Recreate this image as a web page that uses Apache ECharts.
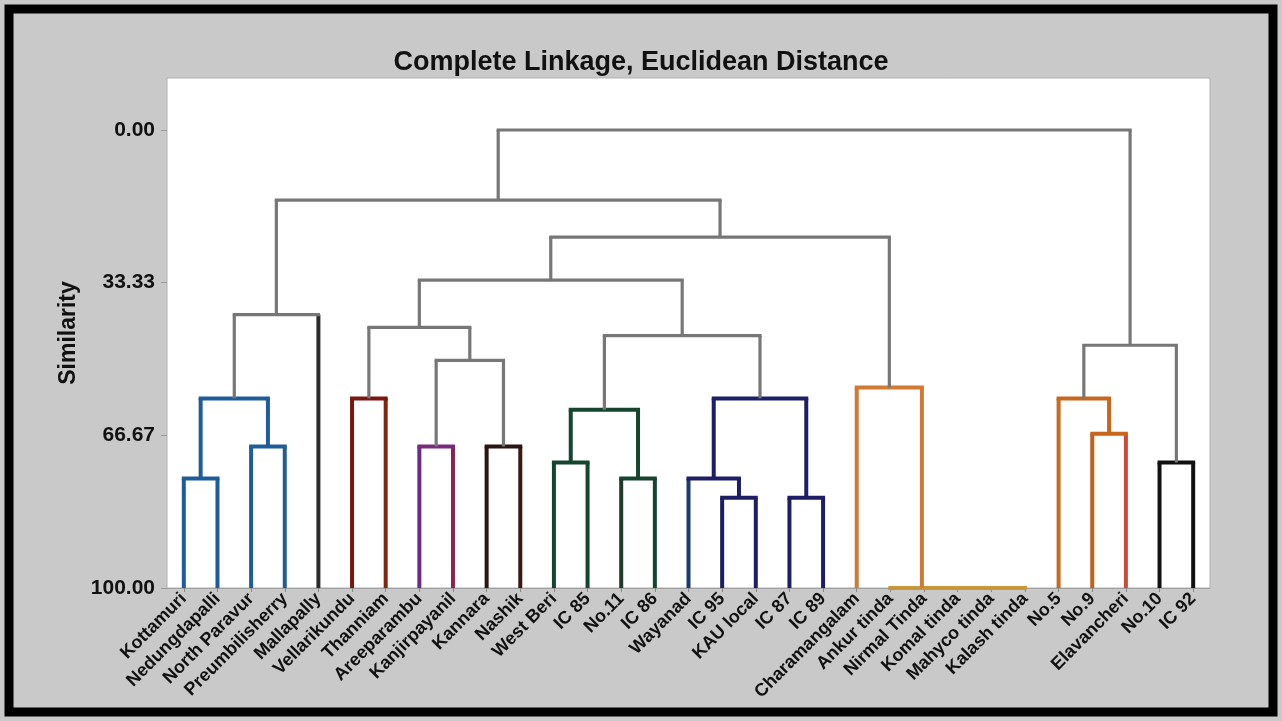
<!DOCTYPE html>
<html>
<head>
<meta charset="utf-8">
<script src="https://cdn.jsdelivr.net/npm/echarts@6/dist/echarts.min.js"></script>
<style>
  html, body { margin: 0; padding: 0; background: #c9c9c9; }
  #chart { width: 1282px; height: 721px; }
</style>
</head>
<body>
<div id="chart"></div>
<script>
// leaves, left to right
const leaves = ['Kottamuri', 'Nedungdapalli', 'North Paravur', 'Preumbilisherry', 'Mallapally',
  'Vellarikundu', 'Thanniam', 'Areeparambu', 'Kanjirpayanil', 'Kannara', 'Nashik', 'West Beri',
  'IC 85', 'No.11', 'IC 86', 'Wayanad', 'IC 95', 'KAU local', 'IC 87', 'IC 89', 'Charamangalam',
  'Ankur tinda', 'Nirmal Tinda', 'Komal tinda', 'Mahyco tinda', 'Kalash tinda', 'No.5', 'No.9',
  'Elavancheri', 'No.10', 'IC 92'];
const leafColors = ['#1f5c9a', '#1f5c9a', '#1f5c9a', '#1f5c9a', '#2b2b2b',
  '#7a1610', '#80260f', '#6b2a86', '#8a2450', '#2a1414', '#3a1a10', '#15452e',
  '#15452e', '#1d3a2a', '#15452e', '#1c3a72', '#1e1e66', '#1e1e66', '#1e1e66', '#1e1e66', '#d07a34',
  '#c8963c', '#c8963c', '#c8963c', '#c8963c', '#c8963c', '#c86a22', '#c0601e',
  '#c84a3a', '#111111', '#111111'];

// merges: node ids 0..30 are leaves, merge k gets id 31 + k
const mergeLeft  = [0, 2, 31, 33, 5, 7, 9, 36, 35, 11, 13, 40, 16, 15, 18, 44, 42, 39, 24, 23, 22, 21, 20, 48, 34, 27, 26, 29, 57, 55];
const mergeRight = [1, 3, 32, 4, 6, 8, 10, 37, 38, 12, 14, 41, 17, 43, 19, 45, 46, 47, 25, 49, 50, 51, 52, 53, 54, 28, 56, 30, 58, 59];
const mergeSim   = [76.1, 69.1, 58.6, 40.3, 58.6, 69.1, 69.1, 50.3, 43.1, 72.6, 76.1, 61.1, 80.3, 76.1, 80.3, 58.6,
  44.9, 32.8, 100, 100, 100, 100, 56.2, 23.4, 15.3, 66.3, 58.6, 72.6, 47.0, 0];
const mergeColors = ['#1f5c9a', '#1f5c9a', '#1f5c9a', '#777777', '#7a1610', '#7a2a7a', '#2a1414', '#777777',
  '#777777', '#15452e', '#15452e', '#15452e', '#1e1e66', '#1e1e66', '#1e1e66', '#1e1e66', '#777777', '#777777',
  '#c8963c', '#c8963c', '#c8963c', '#c8963c', '#d07a34', '#777777', '#777777', '#c8661e', '#c8661e', '#111111',
  '#777777', '#777777'];

const simTicks = [0, 33.33, 66.67, 100];

// node positions (leaf index units) and heights
let nodeX = leaves.map((_, i) => i);
let nodeH = leaves.map(() => 100);
mergeLeft.forEach((a, k) => {
  let b = mergeRight[k];
  nodeX.push((nodeX[a] + nodeX[b]) / 2);
  nodeH.push(mergeSim[k]);
});

let segData = mergeLeft.map((a, k) => {
  let b = mergeRight[k];
  return [nodeX[a], nodeH[a], nodeX[b], nodeH[b], mergeSim[k]];
});

function seg(p0, p1, color, cap) {
  return {
    type: 'line',
    shape: { x1: p0[0], y1: p0[1], x2: p1[0], y2: p1[1] },
    style: { stroke: color, lineWidth: color === '#777777' ? 3.2 : 4, lineCap: cap }
  };
}

let chart = echarts.init(document.getElementById('chart'));
let option = {
  backgroundColor: '#c9c9c9',
  animation: false,
  title: {
    text: 'Complete Linkage, Euclidean Distance',
    left: 'center',
    top: 44,
    textStyle: { fontFamily: 'Liberation Sans', fontWeight: 'bold', fontSize: 27, color: '#111' }
  },
  grid: {
    left: 167, right: 72, top: 78, bottom: 133,
    show: true, backgroundColor: '#ffffff', borderColor: '#b0b0b0', borderWidth: 1
  },
  xAxis: [
    {
      type: 'category',
      data: leaves,
      boundaryGap: true,
      axisLine: { show: true, onZero: false, lineStyle: { color: '#a0a0a0', width: 1 } },
      axisTick: { show: true, alignWithLabel: true, length: 4, lineStyle: { color: '#888' } },
      axisLabel: {
        interval: 0, rotate: 45, margin: 8,
        fontFamily: 'Liberation Sans', fontWeight: 'bold', fontSize: 18, color: '#111'
      },
      splitLine: { show: false }
    },
    { type: 'value', min: -0.5, max: 30.5, show: false }
  ],
  yAxis: {
    type: 'value',
    inverse: true,
    min: -11.35,
    max: 100,
    name: 'Similarity',
    nameLocation: 'middle',
    nameGap: 80,
    nameTextStyle: { fontFamily: 'Liberation Sans', fontWeight: 'bold', fontSize: 23, color: '#111' },
    axisLine: { show: false, onZero: false },
    axisTick: { show: true, inside: false, customValues: simTicks, length: 6, lineStyle: { color: '#999' } },
    axisLabel: {
      customValues: simTicks, margin: 12,
      fontFamily: 'Liberation Sans', fontWeight: 'bold', fontSize: 21, color: '#111',
      formatter: v => v.toFixed(2)
    },
    splitLine: { show: false }
  },
  series: [{
    type: 'custom',
    xAxisIndex: 1,
    yAxisIndex: 0,
    clip: false,
    data: segData,
    encode: { x: [0, 2], y: [1, 3, 4] },
    renderItem: (params, api) => {
      let k = params.dataIndex;
      let a = mergeLeft[k], b = mergeRight[k];
      let c = mergeColors[k];
      let ca = a < leaves.length ? leafColors[a] : c;
      let cb = b < leaves.length ? leafColors[b] : c;
      let a0 = api.coord([api.value(0), api.value(1)]);
      let a1 = api.coord([api.value(0), api.value(4)]);
      let b0 = api.coord([api.value(2), api.value(3)]);
      let b1 = api.coord([api.value(2), api.value(4)]);
      return {
        type: 'group',
        children: [seg(a0, a1, ca, 'butt'), seg(b0, b1, cb, 'butt'), seg(a1, b1, c, 'square')]
      };
    }
  }],
  graphic: [{
    type: 'rect',
    shape: { x: 9, y: 9, width: 1264, height: 703 },
    style: { fill: null, stroke: '#000', lineWidth: 9 },
    silent: true
  }]
};
chart.setOption(option);
window.addEventListener('resize', () => { chart.resize(); });
</script>
</body>
</html>
